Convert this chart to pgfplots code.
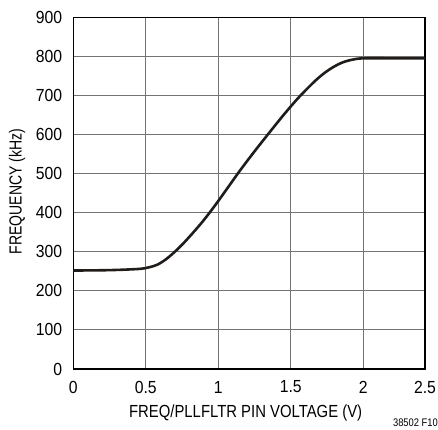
\documentclass[border=0pt]{standalone}
\usepackage{fontspec}
\setmainfont{Liberation Sans}[FakeStretch=0.9]
\newfontfamily\labfont{Liberation Sans}[FakeStretch=0.85]
\newfontfamily\ylabfont{Liberation Sans}[FakeStretch=0.8]
\usepackage{pgfplots}
\pgfplotsset{compat=1.18}
\definecolor{curve}{HTML}{201C1A}
\begin{document}
\begin{tikzpicture}
\useasboundingbox (-73.3bp,-61bp) rectangle (364.7bp,369bp);
\begin{axis}[
  at={(0,0)}, anchor=south west,
  scale only axis, width=351.7bp, height=351.7bp,
  xmin=0, xmax=2.4255, ymin=0, ymax=900,
  xtick={0,0.5,1,1.5,2,2.4255},
  xticklabels={0,0.5,1,1.5,2,2.5},
  ytick={0,100,...,900},
  grid=major,
  major grid style={black!55, line width=0.9bp},
  axis line style={black, line width=1.3bp},
  major tick length=0pt,
  /pgf/number format/assume math mode=true,
  tick label style={font=\fontsize{17.5bp}{20bp}\selectfont, inner sep=0pt},
  yticklabel style={anchor=east, xshift=-11bp},
  xticklabel style={anchor=center, yshift=-18bp},
  xlabel={\labfont FREQ/PLLFLTR PIN VOLTAGE (V)},
  ylabel={\ylabfont FREQUENCY (kHz)},
  label style={font=\fontsize{17.5bp}{20bp}\selectfont, inner sep=0pt},
  xlabel style={at={(axis description cs:0.49,-0.125)}, anchor=center},
  ylabel style={at={(axis description cs:-0.160,0.505)}, anchor=center},
  clip=false,
]
\addplot[curve, line width=2.6bp, smooth, tension=0.5] coordinates {
(0,252) (0.25,253) (0.45,256) (0.52,260) (0.58,267) (0.64,281) (0.70,300)
(0.75,318) (0.80,338) (0.85,359) (0.90,381) (0.95,405) (1.0,430)
(1.05,456) (1.15,508) (1.25,557) (1.35,604) (1.45,650) (1.55,693)
(1.65,731) (1.72,754) (1.79,772) (1.86,785) (1.93,792) (2.0,795)
(2.2,795) (2.4255,795)
};
\end{axis}
\node[anchor=east, inner sep=0pt, font=\labfont\fontsize{11bp}{13bp}\selectfont] at (364.7bp,-54bp) {38502 F10};
\end{tikzpicture}
\end{document}
